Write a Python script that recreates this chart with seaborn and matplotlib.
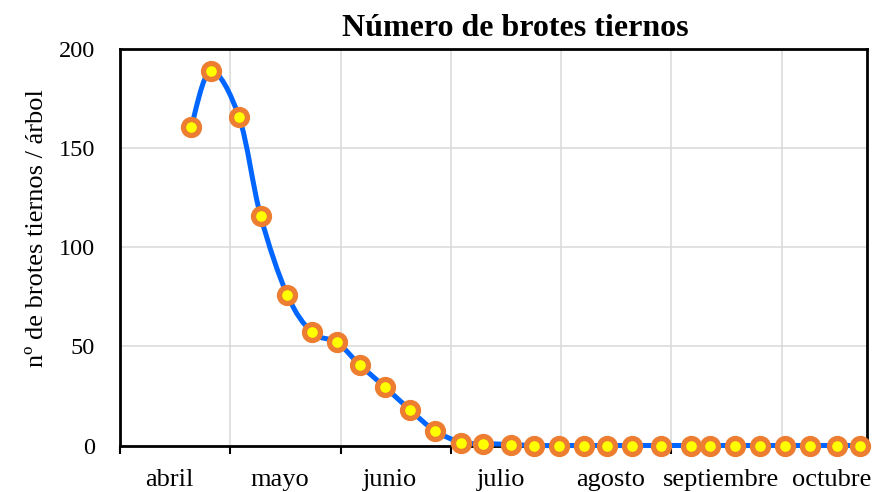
import numpy as np
import pandas as pd
import matplotlib
matplotlib.use('Agg')
import matplotlib.pyplot as plt
import seaborn as sns
from matplotlib.path import Path
from matplotlib.patches import PathPatch

# ============================================================
# Data: sampling day (days from 1 April) and shoots per tree
# ============================================================
dias = [20, 25.5, 33.5, 39.5, 47, 54, 61, 67.5, 74.5, 81.5, 88.5, 96, 102, 110,
        116.5, 123.5, 130.5, 137, 144, 152, 160.5, 166, 173, 180, 187, 194, 201.5, 208]
brotes = [160.5, 189, 165.5, 116, 76, 57, 52, 40.5, 29.5, 18, 7.5, 1.5, 1, 0.5,
          0, 0, 0, 0, 0, 0, 0, 0, 0, 0, 0, 0, 0, 0]
meses = ['abril', 'mayo', 'junio', 'julio', 'agosto', 'septiembre', 'octubre']
y_ticks = [0, 50, 100, 150, 200]

df = pd.DataFrame({'dia': dias, 'brotes': brotes})

# ============================================================
# Style
# ============================================================
sns.set_theme(style='white')
plt.rcParams['font.family'] = ['Liberation Serif', 'DejaVu Serif']
plt.rcParams['text.color'] = 'black'
plt.rcParams['xtick.labelcolor'] = 'black'
plt.rcParams['ytick.labelcolor'] = 'black'

fig = plt.figure(figsize=(8.74, 4.92), dpi=100)
ax = fig.add_axes([120 / 874, 1 - 445.5 / 492, (867 - 120) / 874, (445.5 - 49) / 492])

# smoothed line (Excel-like Catmull-Rom bezier through the points)
pts = df[['dia', 'brotes']].to_numpy(dtype=float)
ext = np.vstack([pts[0], pts, pts[-1]])
verts = [tuple(pts[0])]
codes = [Path.MOVETO]
for i in range(len(pts) - 1):
    p0, p1, p2, p3 = ext[i], ext[i + 1], ext[i + 2], ext[i + 3]
    c1 = p1 + (p2 - p0) / 6
    c2 = p2 - (p3 - p1) / 6
    verts += [tuple(c1), tuple(c2), tuple(p2)]
    codes += [Path.CURVE4] * 3
curve = PathPatch(Path(verts, codes), facecolor='none', edgecolor='#0066FF',
                  lw=3.6, zorder=3, clip_on=False, capstyle='round')
ax.add_patch(curve)

# markers only
sns.lineplot(data=df, x='dia', y='brotes', ax=ax, linestyle='none', marker='o',
             markersize=11.5, markerfacecolor='#FFFF00', markeredgecolor='#ED7D31',
             markeredgewidth=3.8, zorder=4, clip_on=False)

ax.set_xlim(0, 210)
ax.set_ylim(0, 200)

# month boundaries (major) and month names (minor)
ax.set_xticks(np.arange(0, 187, 31))
ax.set_xticklabels([])
ax.set_xticks(np.arange(0, 187, 31) + 14, minor=True)
ax.set_xticklabels(meses, minor=True)
ax.tick_params(axis='x', which='major', bottom=True, length=6, width=1.5, color='black')
ax.tick_params(axis='x', which='minor', bottom=True, length=0, pad=17, labelsize=19)

ax.set_yticks(y_ticks)
ax.tick_params(axis='y', length=0, pad=18, labelsize=17.5)

ax.grid(True, which='major', color='#D9D9D9', lw=1.1)
ax.set_axisbelow(True)
for sp in ax.spines.values():
    sp.set_color('black')
    sp.set_linewidth(2)

ax.set_xlabel('')
ax.set_ylabel('')

fig.text(515 / 874, 1 - 29 / 492, 'Número de brotes tiernos', ha='center', va='center',
         fontsize=23, fontweight='bold')
fig.text(37 / 874, 1 - 228 / 492, 'nº de brotes tiernos / árbol', ha='center', va='center',
         rotation=90, fontsize=19)

fig.savefig('out.png', dpi=100)
